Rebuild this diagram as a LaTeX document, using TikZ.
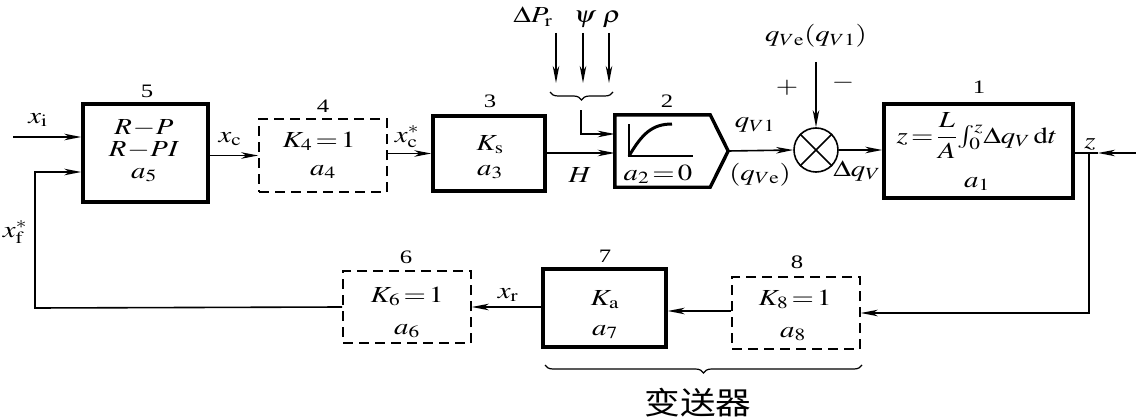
\documentclass[tikz,border=0pt]{standalone}
\usepackage{graphicx}
\usepackage{mathptmx}
\usepackage{fontspec}
\setmainfont{Liberation Serif}
\newfontfamily\cjk{Noto Sans CJK SC}
\usetikzlibrary{arrows.meta,decorations.pathreplacing,calc}
\newcommand\hs[1]{\scalebox{1.25}[1]{#1}}
\newcommand\hn[1]{\scalebox{1.3}[1]{\fontsize{19}{19}\selectfont #1}}
\begin{document}
\begin{tikzpicture}[x=1pt,y=-1pt,
  font=\fontsize{23}{23}\selectfont,
  box/.style={draw,line width=3.4pt,inner sep=0pt},
  dbox/.style={draw,line width=1.6pt,dash pattern=on 10pt off 6pt,inner sep=0pt},
  arr/.style={line width=1.6pt,-{Stealth[length=17pt,width=6.5pt,inset=5pt]}},
  ln/.style={line width=1.6pt},
  lbl/.style={inner sep=0pt,anchor=base},
  brc/.style={line width=1.2pt,decorate,decoration={brace,mirror,amplitude=8pt}}]
\useasboundingbox (0,0) rectangle (1136,420);
% blocks
\node[box,minimum width=125pt,minimum height=98pt] (b5) at (145.5,153) {};
\node[dbox,minimum width=128pt,minimum height=73pt] (b4) at (323,155.5) {};
\node[box,minimum width=112pt,minimum height=75pt] (b3) at (489,153.5) {};
\node[inner sep=0pt,minimum width=113pt,minimum height=72pt] (b2) at (671.5,151) {};
\draw[line width=3.4pt,line join=miter] (b2.north west) -- ([xshift=-18pt]b2.north east) -- (b2.east) -- ([xshift=-18pt]b2.south east) -- (b2.south west) -- cycle;
\node[draw,circle,line width=1.6pt,minimum size=44pt,inner sep=0pt] (s) at (816,150) {};
\draw[ln] (s.north west) -- (s.south east) (s.north east) -- (s.south west);
\node[box,minimum width=189pt,minimum height=94pt] (b1) at (978.5,151) {};
\node[dbox,minimum width=128pt,minimum height=72pt] (b6) at (407,307) {};
\node[box,minimum width=123pt,minimum height=78pt] (b7) at (604.5,308) {};
\node[dbox,minimum width=128pt,minimum height=72pt] (b8) at (796,313) {};
% block contents
\node[lbl] (t5a) at (144,135) {\hs{$R\!-\!P$}};
\node[lbl] (t5b) at (144,157) {\hs{$R\!-\!PI$}};
\node[lbl] (t5c) at (144,178) {\hs{$a_5$}};
\node[lbl] (t4a) at (319,147) {\hs{$K_4\!=\!1$}};
\node[lbl] (t4b) at (323,175) {\hs{$a_4$}};
\node[lbl] (t3a) at (490,150) {\hs{$K_\mathrm{s}$}};
\node[lbl] (t3b) at (490,175) {\hs{$a_3$}};
\draw[line width=2.6pt] (629,124) -- (629,156) -- (693,156);
\draw[line width=3pt] (629,156) .. controls (642,134) and (652,124) .. (672,124);
\node[lbl] (t2) at (658,180) {\hs{$a_2\!=\!0$}};
\node[lbl] (t1a) at (977,143) {\hs{$z\!=\!{\displaystyle\frac{L}{A}}\!\int_0^z\!\Delta q_V\,\mathrm{d}t$}};
\node[lbl] (t1b) at (977,187) {\hs{$a_1$}};
\node[lbl] (t6a) at (407,302) {\hs{$K_6\!=\!1$}};
\node[lbl] (t6b) at (407,334) {\hs{$a_6$}};
\node[lbl] (t7a) at (605,305) {\hs{$K_\mathrm{a}$}};
\node[lbl] (t7b) at (605,335) {\hs{$a_7$}};
\node[lbl] (t8a) at (795,305) {\hs{$K_8\!=\!1$}};
\node[lbl] (t8b) at (793,337) {\hs{$a_8$}};
% block numbers
\node[lbl] (n5) at (147,97) {\hn{5}};
\node[lbl] (n4) at (323,112) {\hn{4}};
\node[lbl] (n3) at (490,107) {\hn{3}};
\node[lbl] (n2) at (667,107) {\hn{2}};
\node[lbl] (n1) at (979,94) {\hn{1}};
\node[lbl] (n6) at (406,263) {\hn{6}};
\node[lbl] (n7) at (605,262) {\hn{7}};
\node[lbl] (n8) at (797,268) {\hn{8}};
% forward path
\coordinate (xin) at (13,137);
\draw[arr] (xin) -- (xin -| b5.west);
\node[lbl] (lxi) at (38,123) {\hs{$x_\mathrm{i}$}};
\draw[arr] (b5.east |- b4.west) -- (b4.west);
\node[lbl] (lxc) at (230,142) {\hs{$x_\mathrm{c}$}};
\draw[arr] (b4.east |- b3.west) -- (b3.west);
\node[lbl] (lxcs) at (407,142) {\hs{$x_\mathrm{c}^*$}};
\coordinate (hy) at (0,153);
\draw[arr] (b3.east |- hy) -- (b2.west |- hy);
\node[lbl] (lH) at (580,182) {\hs{$H$}};
% disturbances
\node[lbl] (dp) at (533,23) {\hs{$\Delta P_\mathrm{r}$}};
\node[lbl] (psi) at (585,23) {\hs{$\psi$}};
\node[lbl] (rho) at (612,23) {\hs{$\rho$}};
\coordinate (d1) at (556,33); \coordinate (d2) at (583,33); \coordinate (d3) at (609,33);
\draw[arr] (d1) -- ++(0,50);
\draw[arr] (d2) -- ++(0,50);
\draw[arr] (d3) -- ++(0,50);
\draw[brc] (550,92) -- (613,92);
\coordinate (dtop) at (581,110);
\coordinate (dy) at (0,134);
\draw[arr] (dtop) -- (dtop |- dy) -- (b2.west |- dy);
% to summing point
\draw[arr] (b2.east) -- (s.west);
\node[lbl] (lqv1) at (755,128) {\hs{$q_{V1}$}};
\node[lbl] (lqve) at (760,180) {\hs{$(q_{V\mathrm{e}})$}};
\node[lbl] (lref) at (816,42) {\hs{$q_{V\mathrm{e}}(q_{V1})$}};
\coordinate (rtop) at (816,62);
\draw[arr] (rtop) -- (s.north);
\node[inner sep=0pt] (plus) at (787,88) {\hs{$+$}};
\node[inner sep=0pt] (minus) at (843,83) {\hs{$-$}};
\draw[arr] (s.east) -- (b1.west |- s.east);
\node[lbl] (ldq) at (857,176) {\hs{$\Delta q_V$}};
% output z
\coordinate (zin) at (1136,153);
\coordinate (zarr) at (1098,153);
\coordinate (zj) at (1089,153);
\draw[arr] (zin) -- (zarr);
\draw[ln] (zarr) -- (b1.east |- zarr);
\node[lbl] (lz) at (1090,148) {\hs{$z$}};
\draw[arr] (zj) -- (zj |- b8.east) -- (b8.east);
% feedback path
\draw[arr] (b8.west |- 0,311) -- (b7.east |- 0,311);
\draw[arr] (b7.west |- b6.east) -- (b6.east);
\node[lbl] (lxr) at (508,298) {\hs{$x_\mathrm{r}$}};
\coordinate (fc) at (35,308);
\coordinate (fy) at (0,172);
\draw[arr] (b6.west) -- (fc) -- (fc |- fy) -- (b5.west |- fy);
\node[lbl] (lxf) at (15,237) {\hs{$x_\mathrm{f}^*$}};
% transmitter brace
\draw[brc] (545,365) -- (862,365);
\node[inner sep=0pt] (tx) at (698,403) {\scalebox{1.15}[1]{\fontsize{31}{31}\selectfont\cjk 变送器}};
\end{tikzpicture}
\end{document}
